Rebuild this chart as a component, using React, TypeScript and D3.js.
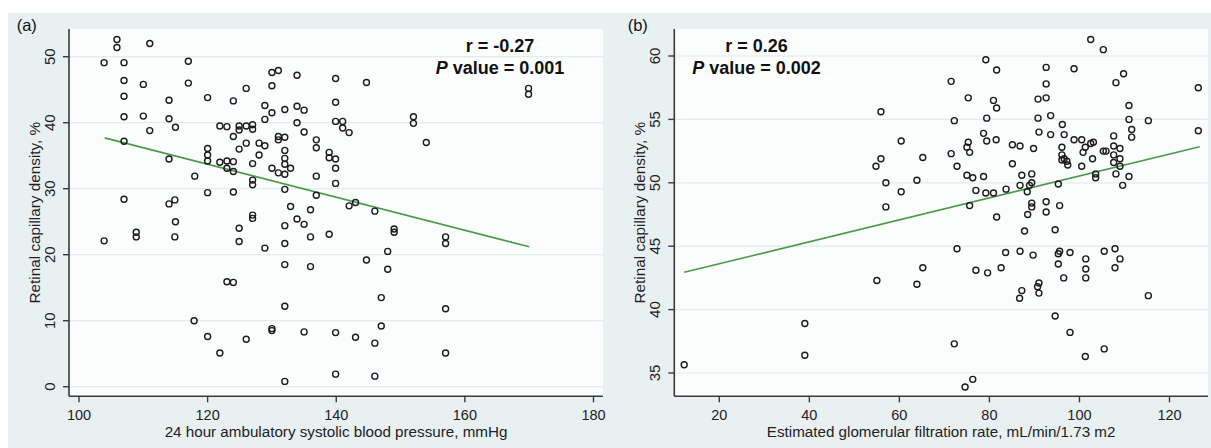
import React from "react";
import * as d3 from "d3";

// ---------- Panel (a): 24h ambulatory SBP vs retinal capillary density ----------
const sbpX: number[] = [
  103.9, 105.9, 105.9, 107.0, 111.0, 117.0, 117.0, 107.0, 110.0, 107.0,
  114.0, 120.0, 107.0, 110.0, 111.0, 114.0, 115.0, 107.0, 114.0, 118.0,
  107.0, 114.0, 114.9, 115.0, 103.9, 108.9, 108.9, 114.9, 117.9, 120.0,
  121.9, 120.0, 120.0, 120.0, 121.9, 123.0, 124.0, 123.0, 124.0, 120.0,
  124.0, 121.9, 123.0, 124.0, 124.0, 124.9, 126.0, 127.0, 124.9, 127.0,
  126.0, 126.0, 124.9, 128.0, 128.9, 128.0, 127.0, 127.0, 127.0, 128.9,
  128.9, 130.0, 130.0, 131.0, 130.0, 132.0, 133.9, 135.0, 133.9, 133.9,
  135.0, 131.0, 132.0, 131.0, 132.0, 132.0, 132.0, 132.0, 130.0, 131.0,
  132.9, 132.0, 132.9, 136.9, 136.9, 136.9, 136.9, 136.0, 138.9, 138.9,
  139.9, 139.9, 139.9, 139.9, 139.9, 139.9, 141.0, 141.0, 142.0, 144.7,
  142.0, 143.0, 146.0, 127.0, 127.0, 124.9, 124.9, 123.0, 124.0, 128.9,
  132.0, 132.0, 132.0, 132.0, 132.0, 133.9, 135.0, 136.0, 136.0, 138.9,
  130.0, 130.0, 126.0, 135.0, 139.9, 143.0, 139.9, 144.7, 149.0, 149.0,
  157.0, 157.0, 148.0, 148.0, 147.0, 157.0, 147.0, 146.0, 157.0, 146.0,
  152.0, 152.0, 154.0, 169.9, 169.9,
];
const densityA: number[] = [
  49.1, 52.6, 51.4, 49.1, 52.0, 49.3, 46.0, 46.4, 45.8, 44.0,
  43.4, 43.8, 40.9, 41.0, 38.8, 40.6, 39.3, 37.2, 34.5, 31.9,
  28.4, 27.7, 28.3, 25.0, 22.1, 23.4, 22.7, 22.7, 10.0, 7.6,
  5.1, 36.1, 35.1, 34.2, 34.0, 34.2, 34.1, 33.1, 32.6, 29.4,
  29.5, 39.5, 39.4, 43.3, 37.9, 39.5, 39.5, 39.7, 38.9, 39.0,
  45.2, 36.9, 36.0, 36.9, 36.5, 35.1, 33.8, 31.3, 30.6, 42.6,
  40.5, 41.5, 47.6, 47.9, 45.6, 42.0, 42.5, 41.9, 47.2, 40.0,
  38.6, 37.9, 37.8, 37.4, 35.8, 34.6, 33.7, 32.2, 33.1, 32.4,
  33.1, 29.9, 27.3, 37.4, 36.2, 31.9, 29.0, 26.8, 35.5, 34.7,
  34.5, 33.1, 30.8, 46.7, 43.1, 40.2, 40.2, 39.2, 38.5, 46.1,
  27.4, 27.9, 26.6, 26.0, 25.5, 24.0, 22.0, 15.9, 15.8, 21.0,
  24.4, 21.7, 18.5, 12.2, 0.8, 25.4, 24.6, 22.7, 18.2, 23.1,
  8.8, 8.5, 7.2, 8.3, 8.2, 7.5, 1.9, 19.2, 23.9, 23.4,
  22.7, 21.7, 20.5, 17.8, 13.5, 11.8, 9.2, 6.6, 5.1, 1.6,
  40.9, 39.9, 37.0, 45.2, 44.3,
];
const fitAX: number[] = [104, 170];
const fitAY: number[] = [37.7, 21.2];
const ticksAX: number[] = [100, 120, 140, 160, 180];
const ticksAY: number[] = [0, 10, 20, 30, 40, 50];

// ---------- Panel (b): eGFR vs retinal capillary density ----------
const egfrX: number[] = [
  12.2, 39.0, 39.0, 55.0, 55.9, 55.9, 54.8, 57.0, 57.0, 60.4,
  60.4, 63.9, 65.2, 63.9, 65.2, 71.5, 72.2, 71.5, 72.8, 72.2,
  72.8, 74.6, 76.3, 75.3, 75.3, 75.0, 75.6, 75.0, 76.3, 77.0,
  75.6, 78.7, 79.4, 81.5, 79.2, 81.6, 80.9, 81.6, 79.4, 78.7,
  79.2, 80.9, 83.7, 85.1, 86.8, 89.8, 85.1, 81.6, 77.0, 79.6,
  82.6, 83.6, 86.8, 89.7, 87.8, 87.2, 89.4, 89.4, 86.8, 88.9,
  88.4, 89.4, 89.4, 88.5, 92.6, 92.6, 95.6, 95.3, 94.6, 92.6,
  92.6, 98.8, 90.8, 92.6, 90.8, 93.6, 91.0, 93.6, 96.2, 96.6,
  96.1, 96.1, 96.6, 96.1, 97.2, 97.4, 98.8, 100.5, 102.5, 103.1,
  101.3, 100.8, 102.9, 100.5, 102.5, 105.3, 108.1, 109.8, 111.0, 111.0,
  111.6, 111.6, 107.6, 105.9, 105.3, 107.6, 109.0, 107.6, 109.0, 107.6,
  109.0, 103.6, 103.6, 108.1, 111.0, 109.6, 115.3, 126.4, 126.4, 95.3,
  95.6, 95.3, 97.9, 101.4, 101.4, 101.4, 105.5, 107.9, 109.0, 107.9,
  96.5, 91.0, 90.7, 91.0, 87.2, 86.7, 115.3, 94.6, 97.9, 101.3,
  105.5,
];
const densityB: number[] = [
  35.65, 38.9, 36.4, 42.3, 55.6, 51.9, 51.3, 50.0, 48.1, 53.3,
  49.3, 50.2, 52.0, 42.0, 43.3, 58.0, 54.9, 52.3, 51.3, 37.3,
  44.8, 33.9, 34.5, 56.7, 53.2, 52.8, 52.4, 50.6, 50.4, 49.4,
  48.2, 53.9, 53.3, 53.4, 59.7, 58.9, 56.5, 55.9, 55.1, 50.5,
  49.2, 49.2, 49.5, 53.0, 52.9, 52.7, 51.5, 47.3, 43.1, 42.9,
  43.3, 44.5, 44.6, 44.3, 46.2, 50.6, 50.7, 50.0, 49.8, 49.8,
  49.3, 48.4, 48.1, 47.5, 48.5, 47.7, 48.2, 49.9, 46.3, 59.1,
  57.8, 59.0, 56.6, 56.7, 55.1, 55.3, 54.0, 53.8, 54.6, 53.8,
  52.8, 52.2, 51.9, 51.8, 51.7, 51.4, 53.4, 53.4, 53.1, 53.2,
  52.8, 52.4, 51.9, 51.3, 61.3, 60.5, 57.9, 58.6, 56.1, 55.0,
  54.2, 53.6, 53.7, 52.5, 52.5, 52.9, 52.7, 52.2, 51.9, 51.6,
  51.3, 50.7, 50.4, 50.7, 50.5, 49.8, 54.9, 57.5, 54.1, 44.4,
  44.6, 43.6, 44.5, 44.0, 43.2, 42.5, 44.6, 44.8, 44.0, 43.3,
  42.5, 42.1, 41.8, 41.3, 41.5, 40.9, 41.1, 39.5, 38.2, 36.3,
  36.9,
];
const fitBX: number[] = [12.2, 126.7];
const fitBY: number[] = [42.94, 52.85];
const ticksBX: number[] = [20, 40, 60, 80, 100, 120];
const ticksBY: number[] = [35, 40, 45, 50, 55, 60];

const FONT = "'Liberation Sans', Arial, Helvetica, sans-serif";
const OUTER_BG = "#e8f0f2";
const INNER_BG = "#fbfdfd";
const GRID = "#e0ecef";
const AXIS = "#3a3a3a";
const FIT = "#4a9a4a";

type PanelProps = {
  label: string;
  xs: number[];
  ys: number[];
  fitX: number[];
  fitY: number[];
  xTicks: number[];
  yTicks: number[];
  xDomain: [number, number];
  yDomain: [number, number];
  xRange: [number, number];
  yRange: [number, number];
  plot: { x0: number; x1: number; y0: number; y1: number };
  labelX: number;
  xTitle: string;
  rText: string;
  pText: string;
  annX: number;
};

function Panel(p: PanelProps) {
  const x = d3.scaleLinear().domain(p.xDomain).range(p.xRange);
  const y = d3.scaleLinear().domain(p.yDomain).range(p.yRange);
  const line = d3
    .line<number>()
    .x((d) => x(p.fitX[d]))
    .y((d) => y(p.fitY[d]));
  const { x0, x1, y0, y1 } = p.plot;
  const midX = (x0 + x1) / 2;
  const midY = (y0 + y1) / 2;
  return (
    <g>
      <rect x={x0} y={y0} width={x1 - x0} height={y1 - y0} fill={INNER_BG} />
      {p.yTicks.map((t) => (
        <line key={"g" + t} x1={x0} x2={x1} y1={y(t)} y2={y(t)} stroke={GRID} strokeWidth={1.2} />
      ))}
      {/* axes */}
      <line x1={x0} x2={x0} y1={y0} y2={y1} stroke={AXIS} strokeWidth={1.6} />
      <line x1={x0} x2={x1} y1={y1} y2={y1} stroke={AXIS} strokeWidth={1.6} />
      {p.yTicks.map((t) => (
        <g key={"yt" + t}>
          <line x1={x0 - 6} x2={x0} y1={y(t)} y2={y(t)} stroke={AXIS} strokeWidth={1.4} />
          <text
            transform={`translate(${x0 - 14},${y(t)}) rotate(-90)`}
            textAnchor="middle"
            fontFamily={FONT}
            fontSize={15}
            fill="#222"
          >
            {t}
          </text>
        </g>
      ))}
      {p.xTicks.map((t) => (
        <g key={"xt" + t}>
          <line x1={x(t)} x2={x(t)} y1={y1} y2={y1 + 6} stroke={AXIS} strokeWidth={1.4} />
          <text x={x(t)} y={419.5} textAnchor="middle" fontFamily={FONT} fontSize={14.5} fill="#222">
            {t}
          </text>
        </g>
      ))}
      <text
        transform={`translate(${x0 - 29.5},${midY}) rotate(-90)`}
        textAnchor="middle"
        fontFamily={FONT}
        fontSize={15.3}
        fill="#222"
      >
        Retinal capillary density, %
      </text>
      <text x={midX} y={436.5} textAnchor="middle" fontFamily={FONT} fontSize={15.2} fill="#222">
        {p.xTitle}
      </text>
      <path d={line([0, 1]) || ""} fill="none" stroke={FIT} strokeWidth={1.6} />
      {p.xs.map((v, i) => (
        <circle
          key={"pt" + i}
          cx={x(v)}
          cy={y(p.ys[i])}
          r={3}
          fill="none"
          stroke="#1a1a1a"
          strokeWidth={1.4}
        />
      ))}
      <text x={p.labelX} y={31} fontFamily={FONT} fontSize={16.5} fill="#111">
        {p.label}
      </text>
      <text x={p.annX} y={52} textAnchor="middle" fontFamily={FONT} fontSize={18} fontWeight="bold" fill="#111">
        {p.rText}
      </text>
      <text x={p.annX} y={73.5} textAnchor="middle" fontFamily={FONT} fontSize={18} fontWeight="bold" fill="#111">
        <tspan fontStyle="italic">P</tspan>
        {" value = " + p.pText}
      </text>
    </g>
  );
}

export default function App() {
  return (
    <svg
      width={1211}
      height={448}
      style={{ position: "absolute", left: 0, top: 0, background: "#ffffff" }}
    >
      <rect x={8} y={13} width={1203} height={435} fill={OUTER_BG} />
      <Panel
        label="(a)"
        xs={sbpX}
        ys={densityA}
        fitX={fitAX}
        fitY={fitAY}
        xTicks={ticksAX}
        yTicks={ticksAY}
        xDomain={[100, 180]}
        yDomain={[0, 50]}
        xRange={[79, 593.5]}
        yRange={[386.7, 56.7]}
        plot={{ x0: 69, x1: 603, y0: 29, y1: 396.3 }}
        labelX={16.7}
        xTitle="24 hour ambulatory systolic blood pressure, mmHg"
        rText="r = -0.27"
        pText="0.001"
        annX={500}
      />
      <Panel
        label="(b)"
        xs={egfrX}
        ys={densityB}
        fitX={fitBX}
        fitY={fitBY}
        xTicks={ticksBX}
        yTicks={ticksBY}
        xDomain={[20, 120]}
        yDomain={[35, 60]}
        xRange={[719.3, 1169.5]}
        yRange={[373, 56]}
        plot={{ x0: 674.3, x1: 1208, y0: 29, y1: 396.3 }}
        labelX={627.7}
        xTitle="Estimated glomerular filtration rate, mL/min/1.73 m2"
        rText="r = 0.26"
        pText="0.002"
        annX={756.5}
      />
    </svg>
  );
}
